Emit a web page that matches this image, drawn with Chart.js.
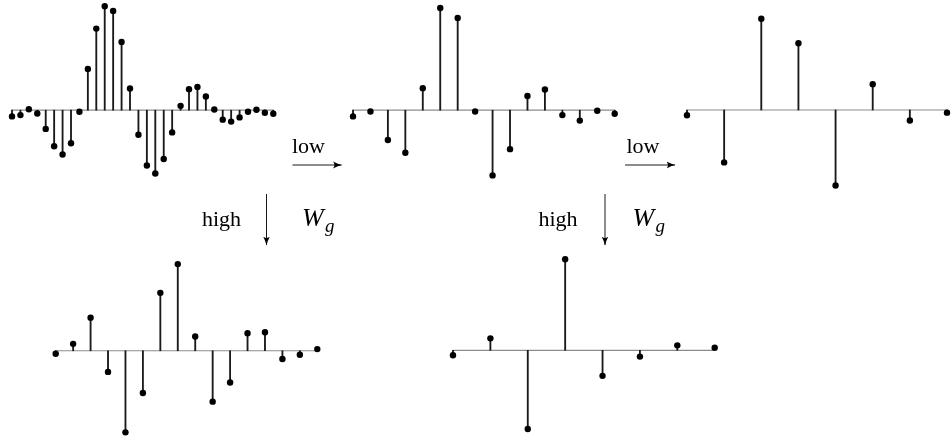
<!DOCTYPE html>
<html>
<head>
<meta charset="utf-8">
<script src="https://cdn.jsdelivr.net/npm/chart.js@4"></script>
<style>
  body { margin: 0; background: #fff; }
  #wrap { position: relative; width: 951px; height: 444px; overflow: hidden; }
  #wrap canvas { position: absolute; left: 0; top: 0; }
  .t { position: absolute; font-family: "Liberation Serif", serif; line-height: 1; white-space: nowrap; color: #000; }
  .lbl { font-size: 22px; }
  .W { font-size: 26px; font-style: italic; }
  .g { font-size: 19px; font-style: italic; }
  svg { position: absolute; left: 0; top: 0; }
</style>
</head>
<body>
<div id="wrap">
  <canvas id="c1" width="951" height="444"></canvas>
  <canvas id="c2" width="951" height="444"></canvas>
  <canvas id="c3" width="951" height="444"></canvas>
  <canvas id="c4" width="951" height="444"></canvas>
  <canvas id="c5" width="951" height="444"></canvas>

  <svg width="951" height="444">
    <defs>
      <marker id="ah" markerWidth="10" markerHeight="8" refX="8.5" refY="4" orient="auto" markerUnits="userSpaceOnUse">
        <path d="M0,0.6 Q5,3.3 9,4 Q5,4.7 0,7.4 Q3,4 0,0.6 Z" fill="#000"/>
      </marker>
    </defs>
    <g stroke="#000" stroke-width="0.9" marker-end="url(#ah)">
      <line x1="292.5" y1="165" x2="341.5" y2="165"/>
      <line x1="625" y1="165" x2="675" y2="165"/>
      <line x1="266.5" y1="194" x2="266.5" y2="245"/>
      <line x1="605" y1="194" x2="605" y2="245"/>
    </g>
  </svg>

  <span class="t lbl" style="left:292px;top:134.9px">low</span>
  <span class="t lbl" style="left:626.5px;top:134.9px">low</span>
  <span class="t lbl" style="left:202px;top:207.6px">high</span>
  <span class="t lbl" style="left:538.5px;top:207.6px">high</span>
  <span class="t W" style="left:302px;top:204.9px">W</span>
  <span class="t g" style="left:325px;top:216.1px">g</span>
  <span class="t W" style="left:632.5px;top:204.9px">W</span>
  <span class="t g" style="left:655.5px;top:216.1px">g</span>
</div>

<script>
// signal (32 samples)
const signal = [-0.063, -0.05, 0.01, -0.033, -0.19, -0.366, -0.45, -0.336, -0.016, 0.42, 0.83, 1.057, 1.01, 0.694, 0.22, -0.25,
                -0.563, -0.643, -0.496, -0.226, 0.044, 0.214, 0.237, 0.14, 0.007, -0.096, -0.116, -0.073, -0.016, 0.004, -0.026, -0.036];
// first level
const low1  = [-0.063, -0.013, -0.303, -0.433, 0.224, 1.04, 0.937, -0.013, -0.663, -0.396, 0.144, 0.21, -0.05, -0.106, -0.006, -0.036];
const high1 = [-0.03, 0.07, 0.334, -0.213, -0.823, -0.426, 0.584, 0.874, 0.144, -0.513, -0.32, 0.177, 0.187, -0.083, -0.04, 0.017];
// second level
const low2  = [-0.054, -0.534, 0.93, 0.68, -0.77, 0.263, -0.107, -0.027];
const high2 = [-0.05, 0.12, -0.79, 0.914, -0.256, -0.063, 0.05, 0.027];

// where each panel goes (px)
const PX_PER_UNIT = 100;
const Y_MIN = -0.9, Y_MAX = 1.08;
const panels = [
  { id: 'c1', vals: signal, left: 12,   right: 273.3, base: 108.7 },
  { id: 'c2', vals: low1,   left: 353,  right: 614.7, base: 108.7 },
  { id: 'c3', vals: low2,   left: 687,  right: 948.3, base: 108.3 },
  { id: 'c4', vals: high1,  left: 55.7, right: 317.3, base: 351.7 },
  { id: 'c5', vals: high2,  left: 453,  right: 714.7, base: 350.7 }
];

function stemChart(p) {
  const n = p.vals.length;
  const pts = p.vals.map((v, i) => ({ x: i, y: v }));
  // bottom panels can't fit the full range, trim the unused top instead
  const top = Math.max(0, p.base - Y_MAX * PX_PER_UNIT);
  const yMax = (p.base - top) / PX_PER_UNIT;
  const bottom = 444 - (p.base - Y_MIN * PX_PER_UNIT);
  return new Chart(document.getElementById(p.id), {
    type: 'bar',
    data: {
      datasets: [
        {
          type: 'scatter',
          data: pts,
          pointRadius: 3.2,
          pointBackgroundColor: '#000',
          pointBorderWidth: 0,
          clip: false,
          order: 0
        },
        {
          type: 'bar',
          data: pts,
          backgroundColor: '#1a1a1a',
          borderWidth: 0,
          barThickness: 1.2,
          clip: false,
          order: 1
        },
        {
          type: 'line',
          data: [{ x: 0, y: 0 }, { x: n - 1, y: 0 }],
          borderColor: '#8c8c8c',
          borderWidth: 1.2,
          pointRadius: 0,
          clip: false,
          order: 2
        }
      ]
    },
    options: {
      responsive: false,
      animation: false,
      devicePixelRatio: 1,
      events: [],
      layout: {
        padding: { left: p.left, right: 951 - p.right, top: top, bottom: Math.max(0, bottom) }
      },
      plugins: { legend: { display: false }, tooltip: { enabled: false } },
      scales: {
        x: { type: 'linear', min: 0, max: n - 1, display: false, offset: false },
        y: { type: 'linear', min: Y_MIN, max: yMax, display: false }
      }
    }
  });
}

panels.forEach(stemChart);
</script>
</body>
</html>
